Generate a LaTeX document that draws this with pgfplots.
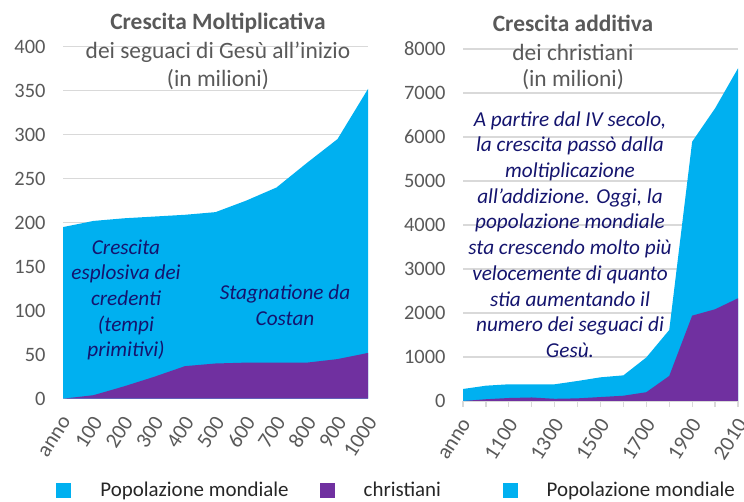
\documentclass[border=0pt]{standalone}
\usepackage{fontspec}
\setmainfont{Carlito}
\usepackage{pgfplots}
\pgfplotsset{compat=1.18}
\definecolor{cblue}{HTML}{00B0F0}
\definecolor{cpurple}{HTML}{7030A0}
\definecolor{tgray}{HTML}{595959}
\definecolor{ggray}{HTML}{D9D9D9}
\definecolor{navy}{HTML}{14146E}
\pgfplotsset{mystyle/.style={
  scale only axis, anchor=south west,
  axis x line*=bottom, axis y line*=left,
  y axis line style={draw=none},
  x axis line style={draw=ggray, line width=1.2bp},
  ymajorgrids, grid style={ggray, line width=1.2bp},
  ymin=0, xmin=0,
  tick label style={font=\fontsize{20.5}{21}\selectfont, text=tgray},
  /pgf/number format/assume math mode=true,
  /pgf/number format/1000 sep={},
  scaled y ticks=false,
  ytick style={draw=none},
  yticklabel style={xshift=-8bp},
  tick align=outside, major tick length=6bp,
  xtick style={draw=ggray, line width=1.2bp},
  xticklabel style={font=\fontsize{21.5}{22}\selectfont, rotate=57, anchor=east, xshift=-6bp, yshift=-11bp},
}}
\newcommand{\annfont}{\fontsize{21.3}{25.8}\selectfont\itshape\color{navy}}
\newcommand{\titfont}{\fontsize{23.5}{28}\selectfont\color{tgray}}
\begin{document}
\begin{tikzpicture}
\useasboundingbox (0,0) rectangle (744bp,502bp);
\begin{axis}[mystyle, at={(63bp,103.3bp)}, width=305bp, height=352bp,
  xmax=10, ymax=400, ytick={0,50,...,400},
  xtick={0,...,10}, xticklabels={anno,100,200,300,400,500,600,700,800,900,1000},
  xtick style={draw=none}]
\addplot[fill=cblue, draw=none] coordinates {(0,195) (1,202) (2,205) (3,207) (4,209) (5,212) (6,225) (7,240) (8,268) (9,295) (10,352)} \closedcycle;
\addplot[fill=cpurple, draw=none] coordinates {(0,0) (1,4) (2,14) (3,25) (4,37) (5,40) (6,41) (7,41) (8,41) (9,45) (10,52)} \closedcycle;
\end{axis}
\begin{axis}[mystyle, at={(463bp,101bp)}, width=275bp, height=352bp,
  xmax=12, ymax=8000, ytick={0,1000,...,8000},
  xtick={0,...,12}, xticklabels={anno,,1100,,1300,,1500,,1700,,1900,,2010},
  legend columns=3,
  legend style={at={(-1.49,-0.253)}, anchor=west, draw=none, fill=none,
    font=\fontsize{21}{22}\selectfont, text=black!85,
    /tikz/every odd column/.append style={column sep=27bp},
    /tikz/every even column/.append style={column sep=29bp}},
  legend image code/.code={\fill[#1] (0bp,-7.5bp) rectangle (15bp,7.5bp);}]
\addplot[fill=cblue, draw=none] coordinates {(0,273) (1,348) (2,380) (3,380) (4,380) (5,455) (6,538) (7,583) (8,990) (9,1614) (10,5894) (11,6652) (12,7561)} \closedcycle;
\addlegendentry{Popolazione mondiale}
\addplot[fill=cpurple, draw=none] coordinates {(0,0) (1,40) (2,68) (3,80) (4,50) (5,60) (6,90) (7,120) (8,200) (9,570) (10,1940) (11,2085) (12,2335)} \closedcycle;
\addlegendentry{\makebox[108bp][l]{christiani}}
\addlegendimage{fill=cblue, draw=none}
\addlegendentry{Popolazione mondiale}
\end{axis}
% titles
\node[font=\titfont\bfseries] at (218bp,479bp) {Crescita Moltiplicativa};
\node[font=\titfont] at (218bp,450bp) {dei seguaci di Gesù all'inizio};
\node[font=\titfont] at (218bp,422bp) {(in milioni)};
\node[font=\titfont\bfseries] at (573bp,479bp) {Crescita additiva};
\node[font=\titfont] at (573bp,450bp) {dei christiani};
\node[font=\titfont] at (573bp,422bp) {(in milioni)};
% annotations
\node[align=center, font=\annfont] at (126bp,202bp) {Crescita\\esplosiva dei\\credenti\\(tempi\\primitivi)};
\node[align=center, font=\annfont] at (285bp,197bp) {Stagnatione da\\Costan};
\node[align=center, font=\annfont] at (570bp,267.5bp) {A partire dal IV secolo,\\la crescita passò dalla\\moltiplicazione\\all'addizione. Oggi, la\\popolazione mondiale\\sta crescendo molto più\\velocemente di quanto\\stia aumentando il\\numero dei seguaci di\\Gesù.};
\end{tikzpicture}
\end{document}
